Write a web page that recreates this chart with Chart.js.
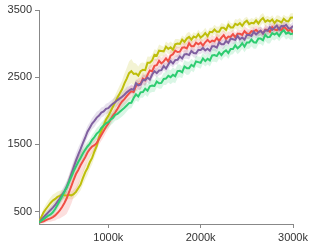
<!DOCTYPE html>
<html><head><meta charset="utf-8">
<script src="https://cdn.jsdelivr.net/npm/chart.js@4/dist/chart.umd.min.js"></script>
<style>html,body{margin:0;padding:0;background:#fff}#w{width:314px;height:249px;position:relative}</style>
</head><body><div id="w"><canvas id="c"></canvas></div>
<script>
const steps = [250,275,300,325,350,375,400,425,450,475,
  500,525,550,575,600,625,650,675,700,725,
  750,775,800,825,850,875,900,925,950,975,
  1000,1025,1050,1075,1100,1125,1150,1175,1200,1225,
  1250,1275,1300,1325,1350,1375,1400,1425,1450,1475,
  1500,1525,1550,1575,1600,1625,1650,1675,1700,1725,
  1750,1775,1800,1825,1850,1875,1900,1925,1950,1975,
  2000,2025,2050,2075,2100,2125,2150,2175,2200,2225,
  2250,2275,2300,2325,2350,2375,2400,2425,2450,2475,
  2500,2525,2550,2575,2600,2625,2650,2675,2700,2725,
  2750,2775,2800,2825,2850,2875,2900,2925,2950,2975,3000];

const yellow = [336,420,490,540,585,630,665,690,720,735,
  755,745,740,750,742,760,795,850,905,1000,
  1085,1150,1235,1300,1395,1480,1610,1700,1785,1870,
  1925,1990,2060,2130,2200,2260,2320,2410,2480,2560,
  2590,2550,2555,2525,2590,2610,2605,2715,2715,2750,
  2835,2820,2895,2890,2885,2955,2920,2945,2910,2990,
  3000,2995,3060,3025,3075,3100,3060,3105,3090,3140,
  3090,3115,3155,3110,3175,3170,3210,3175,3175,3235,
  3235,3205,3280,3240,3240,3295,3275,3305,3265,3315,
  3340,3290,3310,3300,3345,3300,3350,3380,3325,3350,
  3330,3358,3305,3348,3335,3315,3370,3338,3330,3385,3390];
const red = [336,345,355,375,390,400,420,445,480,520,
  570,630,700,790,880,975,1060,1120,1190,1250,
  1310,1380,1430,1470,1490,1520,1580,1640,1700,1760,
  1810,1870,1930,1975,2030,2090,2140,2175,2220,2260,
  2290,2280,2370,2395,2405,2480,2455,2535,2600,2590,
  2670,2680,2745,2705,2735,2780,2735,2820,2840,2895,
  2875,2880,2940,2945,2930,3005,2960,2960,3015,2990,
  3015,2970,3020,3055,3020,3045,3035,3085,3040,3090,
  3125,3070,3105,3100,3140,3095,3145,3145,3130,3185,
  3150,3140,3185,3177,3205,3170,3190,3152,3210,3205,
  3175,3248,3210,3198,3235,3195,3255,3220,3185,3220,3160];
const purple = [336,380,420,455,490,525,560,600,650,695,
  750,805,870,960,1060,1160,1260,1350,1430,1520,
  1600,1690,1750,1810,1850,1900,1930,1975,1990,2030,
  2040,2075,2105,2130,2160,2185,2210,2240,2275,2300,
  2325,2315,2410,2380,2390,2460,2455,2495,2465,2540,
  2590,2560,2600,2605,2665,2630,2690,2740,2705,2755,
  2760,2810,2780,2840,2845,2830,2890,2860,2855,2905,
  2905,2935,2900,2925,2895,2960,2960,2940,3020,2990,
  2990,3040,3010,3075,3065,3055,3115,3065,3090,3060,
  3130,3130,3115,3175,3135,3170,3190,3150,3200,3190,
  3245,3205,3235,3268,3210,3265,3255,3280,3230,3225,3265];
const green = [336,365,390,415,440,460,490,540,600,665,
  730,795,860,940,1020,1100,1170,1240,1300,1365,
  1420,1470,1510,1570,1610,1660,1690,1745,1780,1815,
  1830,1870,1895,1940,1955,1985,2015,2045,2080,2115,
  2120,2190,2245,2215,2275,2280,2330,2300,2365,2375,
  2370,2435,2410,2415,2475,2480,2520,2500,2535,2515,
  2590,2595,2575,2660,2635,2635,2685,2660,2735,2725,
  2715,2780,2740,2775,2750,2825,2830,2815,2870,2830,
  2875,2900,2860,2920,2920,2975,2930,2960,3005,2955,
  3015,3015,3060,3020,3015,3075,3075,3050,3130,3095,
  3100,3155,3135,3160,3115,3170,3200,3148,3165,3140,3150];

const yellowSpread = [0,40,60,70,80,85,90,85,80,75,
  70,65,60,60,60,65,70,80,90,100,
  110,105,100,95,90,85,80,80,80,85,
  90,95,100,105,110,120,130,145,160,175,
  180,165,150,135,120,110,100,95,90,85,
  80,85,90,80,70,75,80,85,90,80,
  70,65,60,70,80,75,70,65,60,65,
  70,75,80,70,60,65,70,75,80,70,
  60,65,70,65,60,70,80,75,70,65,
  60,65,70,65,60,70,80,75,70,65,
  60,65,70,75,80,70,60,65,70,65,60];
const redSpread = [0,20,30,35,40,50,60,75,90,120,
  150,190,230,250,260,255,250,225,200,175,
  150,130,110,100,90,85,80,85,90,85,
  80,75,70,75,80,85,90,95,100,95,
  90,85,80,85,90,85,80,85,90,95,
  100,90,80,85,90,80,70,80,90,85,
  80,75,70,75,80,85,90,80,70,75,
  80,75,70,75,80,75,70,75,80,75,
  70,75,80,75,70,65,60,65,70,75,
  80,70,60,65,70,65,60,65,70,65,
  60,65,70,65,60,65,70,65,60,65,60];
const purpleSpread = [0,30,40,45,50,55,60,65,70,75,
  80,85,90,95,100,105,110,105,100,95,
  90,85,80,85,90,85,80,75,70,75,
  80,75,70,75,80,75,70,75,80,75,
  70,65,60,65,70,75,80,75,70,65,
  60,65,70,65,60,65,70,65,60,65,
  70,65,60,65,70,65,60,65,70,65,
  60,65,70,65,60,65,70,65,60,65,
  70,65,60,65,70,65,60,65,70,65,
  60,65,70,65,60,65,70,65,60,65,
  70,65,60,65,70,65,60,65,70,65,60];
const greenSpread = [0,20,30,35,40,45,50,55,60,65,
  70,75,80,85,90,85,80,85,90,85,
  80,75,70,75,80,85,90,85,80,85,
  90,85,80,85,90,95,100,95,90,85,
  80,85,90,85,80,85,90,95,100,95,
  90,85,80,85,90,95,100,105,110,105,
  100,95,90,95,100,95,90,85,80,85,
  90,85,80,85,90,95,100,95,90,85,
  80,85,90,85,80,85,90,85,80,85,
  90,95,100,95,90,85,80,85,90,95,
  100,95,90,85,80,85,90,85,80,85,90];

const xTicks = [1000,2000,3000];
const xTickLabels = ['1000k','2000k','3000k'];
const yTicks = [500,1500,2500,3500];
const yTickLabels = ['500','1500','2500','3500'];

const series = [
  {vals: green, spread: greenSpread, color: 'rgb(46,204,113)', fillc: 'rgba(46,204,113,0.18)'},
  {vals: purple, spread: purpleSpread, color: 'rgb(128,96,160)', fillc: 'rgba(128,96,160,0.18)'},
  {vals: red, spread: redSpread, color: 'rgb(240,80,70)', fillc: 'rgba(240,80,70,0.18)'},
  {vals: yellow, spread: yellowSpread, color: 'rgb(190,190,10)', fillc: 'rgba(190,190,10,0.18)'}
];

const datasets = [];
series.forEach(s => {
  const upIdx = datasets.length;
  datasets.push({
    data: steps.map((x, j) => ({x, y: s.vals[j] + s.spread[j]})),
    borderWidth: 0, pointRadius: 0, backgroundColor: s.fillc,
    fill: upIdx + 1, order: 1
  });
  datasets.push({
    data: steps.map((x, j) => ({x, y: s.vals[j] - s.spread[j]})),
    borderWidth: 0, pointRadius: 0, fill: false, order: 1
  });
});
series.forEach(s => {
  datasets.push({
    data: steps.map((x, j) => ({x, y: s.vals[j]})),
    borderColor: s.color, borderWidth: 2, pointRadius: 0, fill: false, order: 0
  });
});

const font = {family: '"Liberation Sans", Arial, sans-serif', size: 11};

new Chart(document.getElementById('c'), {
  type: 'line',
  data: {datasets},
  options: {
    responsive: true, maintainAspectRatio: false, animation: false,
    layout: {padding: {top: 10, right: 21, left: 0, bottom: 0}},
    plugins: {legend: {display: false}, tooltip: {enabled: false}},
    scales: {
      x: {
        type: 'linear', min: 250, max: 3000,
        afterBuildTicks: s => { s.ticks = xTicks.map(v => ({value: v})); },
        afterFit: s => { s.height = 25; },
        ticks: {font, color: '#333', padding: 3, maxRotation: 0, autoSkip: false,
          callback: (v, i) => xTickLabels[i]},
        grid: {drawOnChartArea: false, tickLength: 4, color: '#888', lineWidth: 1},
        border: {color: '#888', width: 1}
      },
      y: {
        type: 'linear', min: 317, max: 3500,
        afterBuildTicks: s => { s.ticks = yTicks.map(v => ({value: v})); },
        afterFit: s => { s.width = 39; },
        ticks: {font, color: '#333', padding: 3, autoSkip: false,
          callback: (v, i) => yTickLabels[i]},
        grid: {drawOnChartArea: false, tickLength: 4, color: '#888', lineWidth: 1},
        border: {color: '#888', width: 1}
      }
    }
  }
});
</script></body></html>
